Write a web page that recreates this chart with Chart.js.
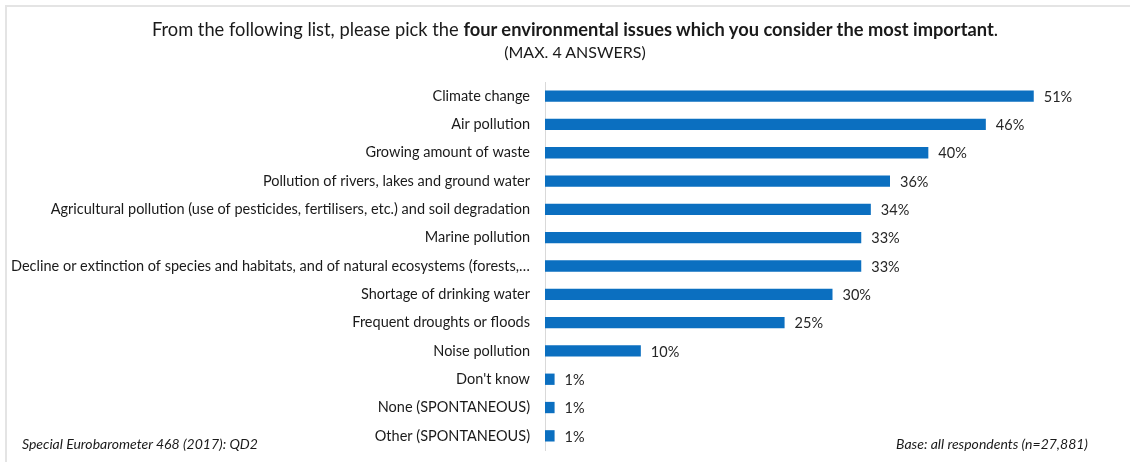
<!DOCTYPE html>
<html>
<head>
<meta charset="utf-8">
<title>Environmental issues</title>
<script src="https://cdn.jsdelivr.net/npm/chart.js@4.4.1/dist/chart.umd.min.js"></script>
<style>
  html, body { margin: 0; padding: 0; background: #fff; }
  #wrap { position: relative; width: 1130px; height: 462px; overflow: hidden; font-family: Lato, sans-serif; color: #1a1a1a; }
  #frame { position: absolute; left: 5px; top: 5px; width: 1300px; height: 600px; border-top: 2px solid #e4e4e4; border-left: 2px solid #e4e4e4; }
  #title { position: absolute; left: 0; width: 1150px; top: 17px; text-align: center; white-space: nowrap; }
  #title .q { font-size: 18.3px; line-height: 24px; }
  #title .m { font-size: 16px; line-height: 22px; }
  .note { position: absolute; top: 435px; font-style: italic; font-size: 14px; white-space: nowrap; }
  canvas { position: absolute; left: 0; top: 0; }
</style>
</head>
<body>
<div id="wrap">
  <div id="frame"></div>
  <canvas id="issuesChart" width="1130" height="462"></canvas>
  <div id="title">
    <div class="q">From the following list, please pick the <b>four environmental issues which you consider the most important</b>.</div>
    <div class="m">(MAX. 4 ANSWERS)</div>
  </div>
  <div class="note" style="left:22px;">Special Eurobarometer 468 (2017): QD2</div>
  <div class="note" style="right:42px;">Base: all respondents (n=27,881)</div>
</div>
<script>
const categories = [
  'Climate change',
  'Air pollution',
  'Growing amount of waste',
  'Pollution of rivers, lakes and ground water',
  'Agricultural pollution (use of pesticides, fertilisers, etc.) and soil degradation',
  'Marine pollution',
  'Decline or extinction of species and habitats, and of natural ecosystems (forests,\u2026',
  'Shortage of drinking water',
  'Frequent droughts or floods',
  'Noise pollution',
  "Don't know",
  'None (SPONTANEOUS)',
  'Other (SPONTANEOUS)'
];
const shares = [51, 46, 40, 36, 34, 33, 33, 30, 25, 10, 1, 1, 1];

const barColor = '#0b6fc0';
const textColor = '#1a1a1a';

// percentage labels to the right of each bar
const valueLabels = {
  id: 'valueLabels',
  afterDatasetsDraw(chart) {
    const ctx = chart.ctx;
    const meta = chart.getDatasetMeta(0);
    ctx.save();
    ctx.font = '14.5px Lato';
    ctx.fillStyle = '#262626';
    ctx.textBaseline = 'middle';
    meta.data.forEach((bar, i) => {
      ctx.fillText(shares[i] + '%', bar.x + 10, bar.y + 1);
    });
    ctx.restore();
  }
};

new Chart(document.getElementById('issuesChart'), {
  type: 'bar',
  data: {
    labels: categories,
    datasets: [{
      data: shares,
      backgroundColor: barColor,
      borderWidth: 0,
      barPercentage: 0.4,
      categoryPercentage: 1.0
    }]
  },
  options: {
    indexAxis: 'y',
    responsive: false,
    animation: false,
    layout: { padding: { top: 82, bottom: 12, left: 0, right: 10 } },
    plugins: {
      legend: { display: false },
      tooltip: { enabled: false }
    },
    scales: {
      x: { display: false, min: 0, max: 60 },
      y: {
        grid: { display: false, drawTicks: false },
        border: { color: '#d9d9d9', width: 1 },
        ticks: {
          padding: 15,
          autoSkip: false,
          color: textColor,
          font: { family: 'Lato', size: 14.5 }
        },
        afterFit(scale) {
          // fixed label column; let the layout padding decide top/bottom
          scale.width = 545;
          scale.paddingTop = 0;
          scale.paddingBottom = 0;
        }
      }
    }
  },
  plugins: [valueLabels]
});
</script>
</body>
</html>
